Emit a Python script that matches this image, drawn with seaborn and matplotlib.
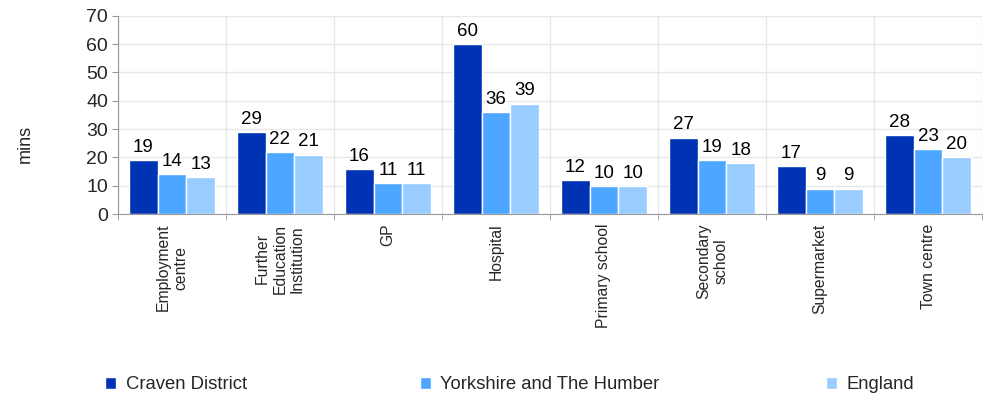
import pandas as pd
import numpy as np
import matplotlib.pyplot as plt
import seaborn as sns
from matplotlib.ticker import FixedLocator

categories = ["Employment\ncentre", "Further\nEducation\nInstitution", "GP", "Hospital",
              "Primary school", "Secondary\nschool", "Supermarket", "Town centre"]
craven = [19, 29, 16, 60, 12, 27, 17, 28]
yorkshire = [14, 22, 11, 36, 10, 19, 9, 23]
england = [13, 21, 11, 39, 10, 18, 9, 20]
series = ["Craven District", "Yorkshire and The Humber", "England"]
colors = ["#0033B3", "#4DA6FF", "#99CCFF"]

df = pd.DataFrame({"category": categories * 3,
                   "area": np.repeat(series, len(categories)),
                   "mins": craven + yorkshire + england})

sns.set_style("white")
plt.rcParams["font.family"] = ["Liberation Sans", "DejaVu Sans"]

fig = plt.figure(figsize=(9.83, 3.95), dpi=100)
ax = fig.add_axes([0.12, 0.458, 0.879, 0.502])

sns.barplot(data=df, x="category", y="mins", hue="area", palette=colors,
            hue_order=series, order=categories, width=0.8, saturation=1, ax=ax)

for cont in ax.containers:
    ax.bar_label(cont, padding=3, fontsize=13.5, color="black")

ax.set_xlim(-0.5, len(categories) - 0.5)
ax.set_ylim(0, 70)
ax.set_yticks(range(0, 71, 10))
ax.tick_params(axis="y", labelsize=14, length=4, color="#999999", direction="out", left=True, pad=3)
ax.set_ylabel("mins", fontsize=13)
ax.yaxis.set_label_coords(-0.097, 0.354)
ax.set_xlabel("")

ax.set_xticks(range(len(categories)))
ax.set_xticklabels(categories, rotation=90, fontsize=11.3, va="top", ha="center",
                   multialignment="center")
ax.tick_params(axis="x", which="major", length=0, pad=7)
ax.xaxis.set_minor_locator(FixedLocator(np.arange(-0.5, len(categories), 1)))
ax.tick_params(axis="x", which="minor", length=4, color="#999999", bottom=True)

ax.grid(axis="y", color="#E8E8E8", linewidth=1)
ax.grid(axis="x", which="minor", color="#E8E8E8", linewidth=1)
ax.set_axisbelow(True)

for side in ["top", "right"]:
    ax.spines[side].set_visible(False)
for side in ["left", "bottom"]:
    ax.spines[side].set_color("#999999")

handles, labels = ax.get_legend_handles_labels()
ax.get_legend().remove()
for h, l, x in zip(handles, labels, [0.107, 0.427, 0.840]):
    fig.legend([h], [l], loc="center left", bbox_to_anchor=(x, 0.026), frameon=False,
               fontsize=13.3, handlelength=0.6, handleheight=0.6, handletextpad=0.5,
               borderaxespad=0, borderpad=0)

fig.savefig("out.png", dpi=100)
